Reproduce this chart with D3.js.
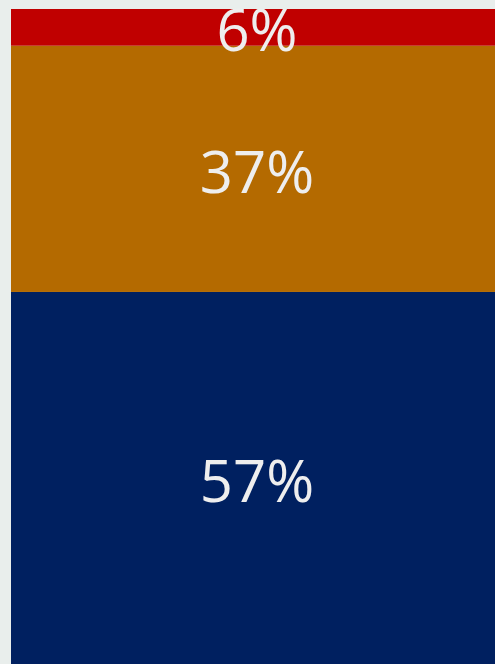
<!DOCTYPE html>
<html>
<head>
<meta charset="utf-8">
<script src="https://cdn.jsdelivr.net/npm/d3@7"></script>
<style>
html,body{margin:0;padding:0;background:#e9eeec;overflow:hidden;}
svg{display:block;}
</style>
</head>
<body>
<svg id="chart" width="495" height="664"></svg>
<script>
// Data (bottom to top)
const categories = ["Segment A", "Segment B", "Segment C"];
const values = [56.8, 37.6, 5.6];
const labels = ["57%", "37%", "6%"];
const colors = ["#002060", "#b46a00", "#c00000"];

const W = 495, H = 664;
const margin = {top: 9, left: 11, right: 0, bottom: 0};
const svg = d3.select("#chart");

const total = d3.sum(values);
const y = d3.scaleLinear().domain([0, total]).range([H - margin.bottom, margin.top]);
const x = d3.scaleBand().domain(["bar"]).range([margin.left, W - margin.right]).padding(0);

let acc = 0;
const stacked = values.map((v, i) => {
  const d = {cat: categories[i], v, label: labels[i], color: colors[i], y0: acc, y1: acc + v};
  acc += v;
  return d;
});

const g = svg.append("g");
g.selectAll("rect").data(stacked).join("rect")
  .attr("x", x("bar"))
  .attr("width", x.bandwidth())
  .attr("y", d => y(d.y1))
  .attr("height", d => y(d.y0) - y(d.y1))
  .attr("fill", d => d.color);

g.selectAll("text").data(stacked).join("text")
  .attr("x", x("bar") + x.bandwidth() / 2 + 4)
  .attr("y", d => (y(d.y0) + y(d.y1)) / 2)
  .attr("dy", "0.41em")
  .attr("text-anchor", "middle")
  .attr("fill", "#eeeeee")
  .style("font-family", "'Open Sans', sans-serif")
  .style("font-size", "58px")
  .text(d => d.label);
</script>
</body>
</html>
